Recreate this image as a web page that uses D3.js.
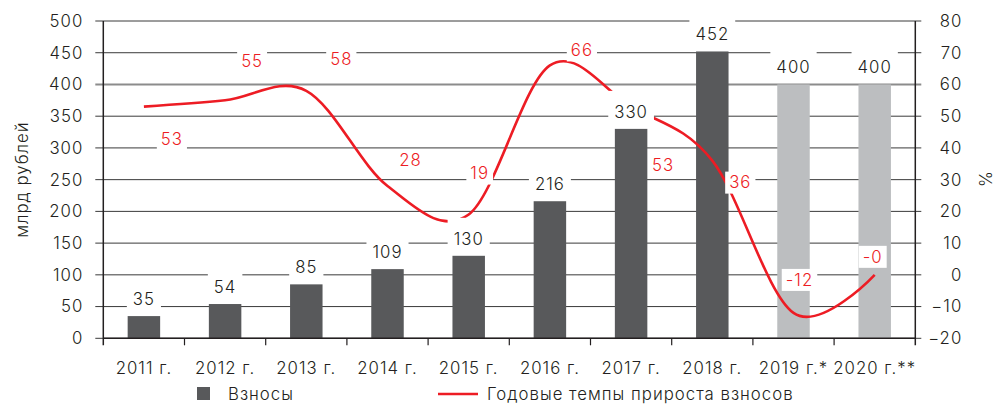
<!DOCTYPE html>
<html>
<head>
<meta charset="utf-8">
<script src="https://cdn.jsdelivr.net/npm/d3@7"></script>
<style>
  body { margin: 0; background: #fff; }
  svg text { font-family: Inter, "Open Sans", sans-serif; font-weight: 300; letter-spacing: 1px; }
</style>
</head>
<body>
<div id="chart"></div>
<script>
// data
var years = ['2011 г.', '2012 г.', '2013 г.', '2014 г.', '2015 г.', '2016 г.', '2017 г.', '2018 г.', '2019 г.*', '2020 г.**'];
var contributions = [35, 54, 85, 109, 130, 216, 330, 452, 400, 400];
var growth = [53, 55, 58, 28, 19, 66, 53, 36, -12, -0];
var growthLabels = ['53', '55', '58', '28', '19', '66', '53', '36', '-12', '-0'];
var forecast = [false, false, false, false, false, false, false, false, true, true];
var leftTicks = [0, 50, 100, 150, 200, 250, 300, 350, 400, 450, 500];
var rightTicks = [-20, -10, 0, 10, 20, 30, 40, 50, 60, 70, 80];

// where each growth label sits relative to its point (px)
var growthLabelOffsets = [[28, 32], [27, -39], [35, -32], [23, -26], [11, -41], [32, -15], [32, 58], [28, 22], [6, -33], [-2, -18]];

var width = 996, height = 405;
var margin = { top: 21, right: 80.7, bottom: 66.7, left: 103.3 };
var innerW = width - margin.left - margin.right;
var innerH = height - margin.top - margin.bottom;

var barColor = '#58595b', forecastColor = '#bcbec0', red = '#ed1c24', ink = '#231f20';
var fs = '16.8px';

var svg = d3.select('#chart').append('svg')
    .attr('width', width)
    .attr('height', height);

var g = svg.append('g').attr('transform', 'translate(' + margin.left + ',' + margin.top + ')');

var x = d3.scaleBand().domain(years).range([0, innerW]).padding(0);
var y = d3.scaleLinear().domain([0, 500]).range([innerH, 0]);
var y2 = d3.scaleLinear().domain([-20, 80]).range([innerH, 0]);

// gridlines (run slightly past both axes as outer ticks)
g.append('g').selectAll('line')
    .data(leftTicks)
    .join('line')
    .attr('x1', -8).attr('x2', innerW + 6)
    .attr('y1', function (d) { return y(d); })
    .attr('y2', function (d) { return y(d); })
    .attr('stroke', function (d) { return d === 400 ? '#8c8c8c' : '#3a3a3a'; })
    .attr('stroke-width', function (d) { return d === 400 ? 2 : 1; });

// left axis
var yAxis = g.append('g')
    .call(d3.axisLeft(y).tickValues(leftTicks).tickSize(0).tickPadding(20));
yAxis.select('.domain').remove();
yAxis.selectAll('text').attr('fill', ink).style('font-size', fs);

// right axis
var yAxis2 = g.append('g')
    .attr('transform', 'translate(' + innerW + ',0)')
    .call(d3.axisRight(y2).tickValues(rightTicks).tickSize(0).tickPadding(47));
yAxis2.select('.domain').remove();
yAxis2.selectAll('text').attr('fill', ink).attr('text-anchor', 'end').style('font-size', fs);

// bars
var bw = x.bandwidth() * 0.4;
g.append('g').selectAll('rect')
    .data(contributions)
    .join('rect')
    .attr('x', function (d, i) { return x(years[i]) + (x.bandwidth() - bw) / 2; })
    .attr('y', function (d) { return y(d); })
    .attr('width', bw)
    .attr('height', function (d) { return innerH - y(d); })
    .attr('fill', function (d, i) { return forecast[i] ? forecastColor : barColor; });

// vertical axis lines and category ticks
g.append('line').attr('x1', 0).attr('x2', 0).attr('y1', 0).attr('y2', innerH + 7)
    .attr('stroke', ink).attr('stroke-width', 1.5);
g.append('line').attr('x1', innerW).attr('x2', innerW).attr('y1', 0).attr('y2', innerH + 7)
    .attr('stroke', ink).attr('stroke-width', 1.5);
g.append('line').attr('x1', 0).attr('x2', innerW).attr('y1', innerH).attr('y2', innerH)
    .attr('stroke', ink).attr('stroke-width', 1.5);
g.append('g').selectAll('line')
    .data(years.slice(1))
    .join('line')
    .attr('x1', function (d) { return x(d); })
    .attr('x2', function (d) { return x(d); })
    .attr('y1', innerH).attr('y2', innerH + 7)
    .attr('stroke', ink).attr('stroke-width', 1.2);

// category labels
g.append('g').selectAll('text')
    .data(years)
    .join('text')
    .attr('x', function (d) { return x(d) + x.bandwidth() / 2; })
    .attr('y', innerH + 30)
    .attr('dy', '0.35em')
    .attr('text-anchor', 'middle')
    .attr('fill', ink)
    .style('font-size', fs)
    .text(function (d) { return d; });

// growth line
var line = d3.line()
    .x(function (d, i) { return x(years[i]) + x.bandwidth() / 2; })
    .y(function (d) { return y2(d); })
    .curve(d3.curveCardinal.tension(0));

g.append('path')
    .datum(growth)
    .attr('d', line)
    .attr('fill', 'none')
    .attr('stroke', red)
    .attr('stroke-width', 2.6);

// labels with white boxes
function boxedLabel(parent, cx, cy, txt, color, padX, boxTop, boxBottom) {
    var lg = parent.append('g');
    var rect = lg.append('rect').attr('fill', '#fff');
    var t = lg.append('text')
        .attr('x', cx).attr('y', cy)
        .attr('dy', '0.35em')
        .attr('text-anchor', 'middle')
        .attr('fill', color)
        .style('font-size', fs)
        .text(txt);
    var w = t.node().getComputedTextLength();
    rect.attr('x', cx - w / 2 - padX).attr('width', w + padX * 2)
        .attr('y', cy - boxTop).attr('height', boxTop + boxBottom);
}

var labels = g.append('g');
contributions.forEach(function (d, i) {
    var cx = x(years[i]) + x.bandwidth() / 2;
    boxedLabel(labels, cx, y(d) - 17, String(d), ink, 6, 21, 13);
});
growth.forEach(function (d, i) {
    var cx = x(years[i]) + x.bandwidth() / 2 + growthLabelOffsets[i][0];
    var cy = y2(d) + growthLabelOffsets[i][1];
    boxedLabel(labels, cx, cy, growthLabels[i], red, 4, 11, 11);
});

// axis titles
svg.append('text')
    .attr('transform', 'translate(22,' + (margin.top + innerH / 2) + ') rotate(-90)')
    .attr('text-anchor', 'middle')
    .attr('dy', '0.35em')
    .attr('fill', ink)
    .style('font-size', fs)
    .text('млрд рублей');
svg.append('text')
    .attr('transform', 'translate(985,' + (margin.top + innerH / 2) + ') rotate(90)')
    .attr('text-anchor', 'middle')
    .attr('dy', '0.35em')
    .attr('fill', ink)
    .style('font-size', fs)
    .text('%');

// legend
var legend = svg.append('g');
legend.append('rect').attr('x', 197).attr('y', 387).attr('width', 13).attr('height', 13).attr('fill', barColor);
legend.append('text').attr('x', 228).attr('y', 394).attr('dy', '0.35em')
    .attr('fill', ink).style('font-size', fs).text('Взносы');
legend.append('line').attr('x1', 438).attr('x2', 478).attr('y1', 394).attr('y2', 394)
    .attr('stroke', red).attr('stroke-width', 2.6);
legend.append('text').attr('x', 487).attr('y', 394).attr('dy', '0.35em')
    .attr('fill', ink).style('font-size', fs).text('Годовые темпы прироста взносов');
</script>
</body>
</html>
